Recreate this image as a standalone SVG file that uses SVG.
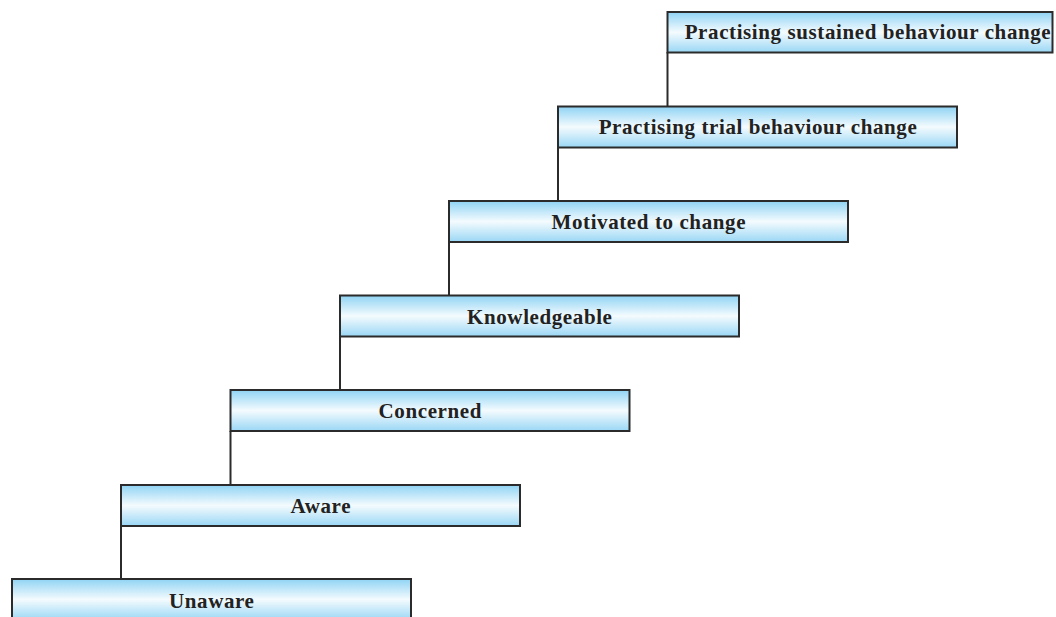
<svg xmlns="http://www.w3.org/2000/svg" width="1056" height="617" viewBox="0 0 1056 617">
<defs>
<linearGradient id="g" x1="0" y1="0" x2="0" y2="1">
<stop offset="0" stop-color="#8fd3f4"/>
<stop offset="0.5" stop-color="#f4fbfe"/>
<stop offset="1" stop-color="#9ad7f5"/>
</linearGradient>
<style>
.box{fill:url(#g);stroke:#2b2b2b;stroke-width:2}
.lbl{font-family:"Liberation Serif",serif;font-weight:bold;font-size:21px;letter-spacing:0.6px;fill:#222;text-anchor:middle}
.con{stroke:#2b2b2b;stroke-width:2;fill:none}
</style>
</defs>
<rect width="1056" height="617" fill="#fff"/>
<g id="connectors">
<line class="con" x1="121" y1="526" x2="121" y2="579"/>
<line class="con" x1="230.5" y1="431" x2="230.5" y2="485"/>
<line class="con" x1="340" y1="336" x2="340" y2="390"/>
<line class="con" x1="449" y1="242" x2="449" y2="295"/>
<line class="con" x1="558" y1="147" x2="558" y2="201"/>
<line class="con" x1="667.5" y1="52" x2="667.5" y2="106"/>
</g>
<g id="unaware"><rect class="box" x="12" y="579" width="399" height="41"/><text class="lbl" x="211.8" y="608">Unaware</text></g>
<g id="aware"><rect class="box" x="121" y="485" width="399" height="41"/><text class="lbl" x="320.8" y="513">Aware</text></g>
<g id="concerned"><rect class="box" x="230.5" y="390" width="399" height="41"/><text class="lbl" x="430.3" y="418">Concerned</text></g>
<g id="knowledgeable"><rect class="box" x="340" y="295.5" width="399" height="41"/><text class="lbl" x="539.8" y="323.5">Knowledgeable</text></g>
<g id="motivated"><rect class="box" x="449" y="201" width="399" height="41"/><text class="lbl" x="648.8" y="229">Motivated to change</text></g>
<g id="trial"><rect class="box" x="558" y="106.5" width="399" height="41"/><text class="lbl" x="758" y="134">Practising trial behaviour change</text></g>
<g id="sustained"><rect class="box" x="667.5" y="12" width="385" height="40.5"/><text class="lbl" x="868" y="39">Practising sustained behaviour change</text></g>
</svg>
